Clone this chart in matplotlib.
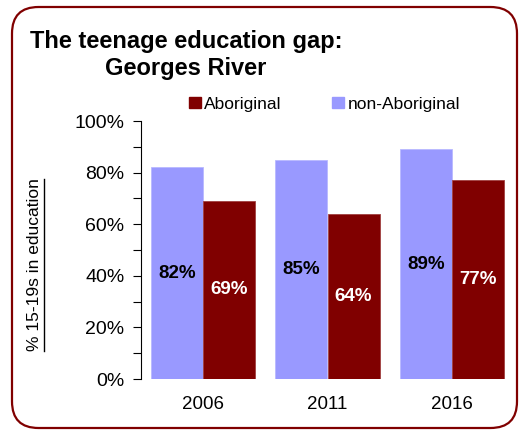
import matplotlib
matplotlib.use("Agg")
import matplotlib.pyplot as plt
import numpy as np
from matplotlib.patches import FancyBboxPatch, Patch
from matplotlib.lines import Line2D

plt.rcParams['font.family'] = ['Liberation Sans', 'DejaVu Sans']

years = ["2006", "2011", "2016"]
non_aboriginal = [82, 85, 89]
aboriginal = [69, 64, 77]

light = "#9999FF"
dark = "#800000"

W, H = 531, 432
fig = plt.figure(figsize=(W / 100, H / 100), dpi=100)

# rounded frame around everything
frame = FancyBboxPatch((12 / W, 4 / H), 505 / W, 421 / H,
                       boxstyle="round,pad=0,rounding_size=0.05",
                       transform=fig.transFigure, fill=False,
                       edgecolor=dark, linewidth=1.6, mutation_aspect=W / H)
fig.patches.append(frame)

ax = fig.add_axes([141 / W, 53 / H, 373 / W, 258 / H])

x = np.arange(len(years))
bw = 0.42
ax.bar(x - bw / 2, non_aboriginal, bw, color=light, edgecolor="#b8b8ff", linewidth=0.6)
ax.bar(x + bw / 2, aboriginal, bw, color=dark, edgecolor="#a04040", linewidth=0.6)

for xi, v in zip(x, non_aboriginal):
    ax.text(xi - bw / 2, v / 2, f"{v}%", ha="center", va="center",
            fontsize=13.5, fontweight="bold", color="black")
for xi, v in zip(x, aboriginal):
    ax.text(xi + bw / 2, v / 2, f"{v}%", ha="center", va="center",
            fontsize=13.5, fontweight="bold", color="white")

ax.set_xlim(-0.5, 2.5)
ax.set_ylim(0, 100)
ax.set_yticks(range(0, 101, 20))
ax.set_yticklabels([f"{t}%" for t in range(0, 101, 20)], fontsize=14)
ax.set_yticks(range(10, 100, 20), minor=True)
ax.tick_params(axis="y", which="both", direction="out", length=6, width=0.8, pad=6)
ax.set_xticks(x)
ax.set_xticklabels(years, fontsize=13.5)
ax.tick_params(axis="x", length=0, pad=12)
for s in ["top", "right", "bottom"]:
    ax.spines[s].set_visible(False)
ax.spines["left"].set_linewidth(0.8)

# titles
fig.text(30 / W, 1 - 48 / H, "The teenage education gap:", fontsize=17,
         fontweight="bold", ha="left", va="baseline")
fig.text(105 / W, 1 - 75 / H, "Georges River", fontsize=17,
         fontweight="bold", ha="left", va="baseline")

# y label with underline
yl = fig.text(35 / W, 1 - 265 / H, "% 15-19s in education", rotation=90,
              fontsize=12.5, ha="center", va="center")
fig.canvas.draw()
bb = yl.get_window_extent(fig.canvas.get_renderer())
ux = (bb.x1 + 1) / W
fig.lines.append(Line2D([ux, ux], [bb.y0 / H, bb.y1 / H], transform=fig.transFigure,
                        color="black", linewidth=1.0))

handles = [Patch(color=dark), Patch(color=light)]
fig.legend(handles, ["Aboriginal", "non-Aboriginal"], ncol=2, frameon=False,
           loc="upper left", bbox_to_anchor=(180 / W, 1 - 88 / H),
           fontsize=12.5, handlelength=0.7, handleheight=0.6,
           handletextpad=0.2, columnspacing=2.9, borderpad=0)

fig.savefig("out.png", dpi=100)
